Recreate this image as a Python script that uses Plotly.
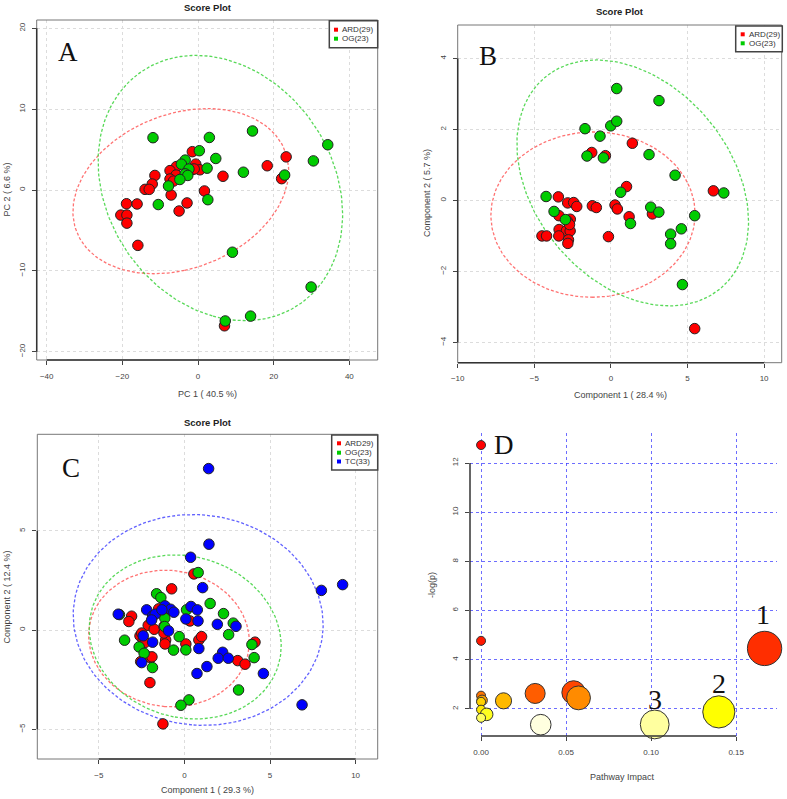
import colorsys
import numpy as np
import plotly.graph_objects as go

# ---------------- DATA ----------------
# Panel A (PCA score plot)
A_ARD_x = [-1.5, -5.7, -0.6, -7.4, -1.4, 0.5, -5.8, -11.4, -7.4, -6.5, -12.1, -14.0, -12.9, -7.1, 1.7, 6.6,
           -2.9, -5.0, -18.9, -16.1, -20.4, -18.8, -18.8, -15.9, 18.3, 23.3, 22.1, 7.0, -1.0]
A_ARD_y = [4.74, 2.9, 3.2, 2.4, 2.55, 2.5, 1.85, 1.8, 1.36, 1.1, 0.74, 0.08, 0.08, -0.62, -0.12, 1.7,
           -1.6, -2.6, -1.7, -1.73, -3.1, -3.1, -4.1, -6.85, 3.0, 4.1, 1.4, -16.8, 2.6]
A_OG_x = [-11.9, 3.0, 0.35, 4.7, -3.4, -4.4, -2.4, 2.4, -3.4, -2.7, -4.8, -7.8, -10.5, 2.6, 9.1, 14.4,
          34.3, 30.5, 12.0, 22.9, 29.9, 13.9, 7.2]
A_OG_y = [6.47, 6.5, 4.86, 3.9, 3.7, 3.2, 2.6, 2.7, 2.0, 1.8, 1.3, 0.5, -1.8, -1.2, -7.7, 7.3,
          5.6, 3.6, 2.2, 1.85, -12.0, -15.6, -16.2]
A_labels = ["ARD(29)", "OG(23)"]
A_xticks = [-40, -20, 0, 20, 40]
A_yticks = [-20, -10, 0, 10, 20]

# Panel B (PLS-DA score plot)
B_ARD_x = [1.40, -1.25, -0.36, 1.02, -3.43, -2.82, -2.43, -2.23, -1.21, -0.95, 0.27, 0.42, -3.39, -2.65,
           -2.85, -3.38, -2.90, -2.66, -3.40, -2.77, -2.81, -4.50, -4.20, -0.16, 1.19, 2.71, 6.69, 5.47, -2.70]
B_ARD_y = [1.61, 1.35, 1.26, 0.39, 0.10, -0.07, -0.06, -0.17, -0.15, -0.20, -0.13, -0.24, -0.43, -0.53,
           -0.58, -0.82, -0.85, -0.86, -1.00, -1.11, -1.21, -1.00, -1.00, -1.02, -0.46, -0.38, 0.27, -3.61, -0.68]
B_OG_x = [-1.56, -0.49, 2.49, 4.19, 0.64, -4.23, -3.71, -2.97, 2.60, 3.13, 1.28, 5.47, 4.60, 3.90, 3.90,
          0.38, 3.14, -1.69, -0.01, 0.38, -0.71, 7.37, 4.67]
B_OG_y = [1.25, 1.20, 1.29, 0.71, 0.23, 0.11, -0.31, -0.54, -0.19, -0.33, -0.65, -0.43, -0.80, -0.95, -1.22,
          3.15, 2.81, 2.02, 2.10, 2.23, 1.81, 0.21, -2.37]
B_labels = ["ARD(29)", "OG(23)"]
B_xticks = [-10, -5, 0, 5, 10]
B_yticks = [-4, -2, 0, 2, 4]

# Panel C (PLS-DA score plot, three groups)
C_ARD_x = [0.55, -0.75, -3.09, -3.25, -1.51, -1.09, -2.12, -1.77, -1.20, -2.60, -2.41, -1.10, -1.14, -2.14,
           -1.98, -2.56, -2.02, 0.08, 0.84, 1.00, 0.32, 3.11, 3.54, 4.12, -1.26, -2.50, -2.30, -1.20, -1.90]
C_ARD_y = [2.83, 2.08, 0.70, 0.43, 1.07, 0.90, 0.24, 0.04, 0.18, -0.29, -0.50, -0.50, -0.70, -1.34,
           -1.39, -1.59, -2.65, -0.70, -0.50, -0.33, 0.46, -1.54, -1.72, -0.61, -4.73, -0.15, -0.62, -0.15, -1.35]
C_OG_x = [-1.63, -1.38, 1.50, 2.28, 0.12, -1.15, -1.16, -3.50, -0.31, 0.08, -0.64, -2.65, -2.36, -1.87,
          2.58, 2.85, 3.94, 4.07, 0.80, 3.16, 0.26, -0.21, -3.80]
C_OG_y = [1.83, 1.64, 1.34, 0.83, 1.02, 0.60, 0.18, -0.51, -0.33, -1.0, -1.01, -0.85, -1.17, -1.89,
          -0.23, 0.35, -0.73, -1.39, 2.90, -3.02, -3.52, -3.79, 0.78]
C_TC_x = [-3.87, -2.21, -1.86, -1.71, -1.92, -1.14, -0.81, -0.62, -1.32, 0.38, 0.75, 0.08, 0.79, 1.92,
          3.01, -0.93, -2.41, -1.86, -2.50, 0.84, 2.23, 1.97, 2.56, 1.31, 0.73, 4.61, 1.41, 1.43, 0.36,
          1.06, 8.00, 9.24, 6.87]
C_TC_y = [0.80, 1.02, 0.71, 0.80, 0.51, 1.22, 1.05, 0.90, 1.02, 1.19, 1.02, 0.56, 0.46, 0.29,
          0.19, -0.04, -0.29, -0.61, -1.64, -0.93, -1.12, -1.42, -1.42, -1.84, -2.19, -2.19, 8.14, 4.33, 3.67,
          2.14, 2.00, 2.29, -3.77]
C_labels = ["ARD29)", "OG(23)", "TC(33)"]
C_xticks = [-5, 0, 5, 10]
C_yticks = [-5, 0, 5]

# Panel D (pathway analysis)
D_impact = [0.0, 0.0, 0.1667, 0.0, 0.0006, 0.0, 0.0, 0.0033, 0.0, 0.0132, 0.0318, 0.0544, 0.0573,
            0.0351, 0.1021, 0.1398]
D_logp = [12.73, 4.77, 4.46, 2.54, 2.35, 2.29, 1.97, 1.78, 1.64, 2.33, 2.63, 2.67, 2.45,
          1.36, 1.37, 1.88]
D_xticks = [0.00, 0.05, 0.10, 0.15]
D_yticks = [2, 4, 6, 8, 10, 12]
D_numbered = [(0.1667, 4.46, "1"), (0.1398, 1.88, "2"), (0.1021, 1.37, "3")]

# ---------------- HELPERS ----------------
W, H = 787, 799
def fx(p): return p / W
def fy(p): return 1 - p / H

RED, GREEN, BLUE = "#ff0000", "#00cc00", "#0000ff"
ELL = {RED: "rgba(255,90,90,0.85)", GREEN: "rgba(60,210,60,0.85)", BLUE: "rgba(70,70,255,0.85)"}

def ellipse(xs, ys, level_t=np.sqrt(5.991464547), n=200):
    pts = np.column_stack([xs, ys])
    mu = pts.mean(axis=0)
    cov = np.cov(pts.T)
    vals, vecs = np.linalg.eigh(cov)
    a = np.linspace(0, 2 * np.pi, n)
    circ = np.vstack([np.cos(a), np.sin(a)])
    e = vecs @ (np.sqrt(vals)[:, None] * circ) * level_t
    return mu[0] + e[0], mu[1] + e[1]

def heat_colors(n):
    j = n // 4
    i = n - j
    cols = []
    for k in range(i):
        h = (1 / 6) * k / (i - 1)
        cols.append(colorsys.hsv_to_rgb(h, 1, 1))
    if j > 0:
        for s in np.linspace(1 - 1 / (2 * j), 1 / (2 * j), j):
            cols.append(colorsys.hsv_to_rgb(1 / 6, s, 1))
    return ["#%02x%02x%02x" % (int(round(r * 255)), int(round(g * 255)), int(round(b * 255))) for r, g, b in cols]

fig = go.Figure()

panels = [
    ("x", "y", [(A_ARD_x, A_ARD_y, RED), (A_OG_x, A_OG_y, GREEN)]),
    ("x2", "y2", [(B_ARD_x, B_ARD_y, RED), (B_OG_x, B_OG_y, GREEN)]),
    ("x3", "y3", [(C_ARD_x, C_ARD_y, RED), (C_OG_x, C_OG_y, GREEN), (C_TC_x, C_TC_y, BLUE)]),
]
for xa, ya, groups in panels:
    for gx, gy, col in groups:
        ex, ey = ellipse(gx, gy)
        fig.add_trace(go.Scatter(x=ex, y=ey, mode="lines", xaxis=xa, yaxis=ya, showlegend=False,
                                 hoverinfo="skip",
                                 line=dict(color=ELL[col], width=1.3, dash="3px,2px")))
    for gx, gy, col in groups:
        fig.add_trace(go.Scatter(x=gx, y=gy, mode="markers", xaxis=xa, yaxis=ya, showlegend=False,
                                 marker=dict(color=col, size=10.5, line=dict(color="#222", width=1))))

# Panel D bubbles
order = sorted(range(len(D_logp)), key=lambda k: -D_logp[k])
hc = heat_colors(len(D_logp))
d_x = [D_impact[k] for k in order]
d_y = [D_logp[k] for k in order]
d_c = [hc[r] for r in range(len(order))]
d_s = [9 + 62 * np.sqrt(v) for v in d_x]
fig.add_trace(go.Scatter(x=d_x, y=d_y, mode="markers", xaxis="x4", yaxis="y4", showlegend=False,
                         cliponaxis=False,
                         marker=dict(color=d_c, size=d_s, sizemode="diameter",
                                     line=dict(color="#333", width=1), opacity=1)))

tickfont = dict(size=8, color="#444", family="Liberation Sans, Arial, sans-serif")
def xax(dom, rng, ticks, anchor, grid="#dcdcdc", fmt=None):
    d = dict(domain=dom, range=rng, tickvals=ticks, anchor=anchor, showgrid=True, gridcolor=grid,
             griddash="dot", gridwidth=1, zeroline=False, showline=False, ticks="outside", ticklen=4,
             tickcolor="#444", tickfont=tickfont, automargin=False, ticklabelstandoff=4, fixedrange=True)
    if fmt:
        d["tickformat"] = fmt
    return d
def yax(dom, rng, ticks, anchor, grid="#dcdcdc"):
    d = xax(dom, rng, ticks, anchor, grid)
    d["tickangle"] = -90
    return d

A_xdom, A_ydom = [fx(36.7), fx(377.7)], [fy(360), fy(20)]
B_xdom, B_ydom = [fx(457.7), fx(781.7)], [fy(362.7), fy(25)]
C_xdom, C_ydom = [fx(37.3), fx(377.7)], [fy(759), fy(434.3)]
D_xdom, D_ydom = [fx(470), fx(777)], [fy(736), fy(433)]
DGRID = "rgba(60,60,255,0.75)"

fig.update_layout(
    width=W, height=H, margin=dict(l=0, r=0, t=0, b=0),
    paper_bgcolor="white", plot_bgcolor="white", showlegend=False,
    font=dict(family="Liberation Sans, Arial, sans-serif", color="#333"),
    xaxis=xax(A_xdom, [-42.64, 47.5], A_xticks, "y"),
    yaxis=yax(A_ydom, [-21.03, 21.03], A_yticks, "x"),
    xaxis2=xax(B_xdom, [-10.0, 11.15], B_xticks, "y2"),
    yaxis2=yax(B_ydom, [-4.57, 4.94], B_yticks, "x2"),
    xaxis3=xax(C_xdom, [-8.6, 11.29], C_xticks, "y3"),
    yaxis3=yax(C_ydom, [-6.5, 9.87], C_yticks, "x3"),
    xaxis4=xax(D_xdom, [-0.0065, 0.174], D_xticks, "y4", grid=DGRID, fmt=".2f"),
    yaxis4=yax(D_ydom, [0.9, 13.22], D_yticks, "x4", grid=DGRID),
)

shapes = []
for n, xt, yt, box in [("", A_xticks, A_yticks, True), ("2", B_xticks, B_yticks, True),
                       ("3", C_xticks, C_yticks, True), ("4", D_xticks, D_yticks, False)]:
    xr, yr = "x" + n, "y" + n
    if box:
        shapes.append(dict(type="rect", xref=xr + " domain", yref=yr + " domain", x0=0, x1=1, y0=0, y1=1,
                           line=dict(color="#777", width=1)))
    shapes.append(dict(type="line", xref=xr + " domain", yref=yr, x0=0, x1=0, y0=min(yt), y1=max(yt),
                       line=dict(color="#333", width=1.5)))
    shapes.append(dict(type="line", xref=xr, yref=yr + " domain", x0=min(xt), x1=max(xt), y0=0, y1=0,
                       line=dict(color="#333", width=1.5)))

annotations = []
def txt(x, y, s, size=9, bold=False, angle=0, family=None, color="#333", xanchor="center"):
    a = dict(x=fx(x), y=fy(y), xref="paper", yref="paper", text=("<b>%s</b>" % s) if bold else s,
             showarrow=False, font=dict(size=size, color=color), textangle=angle, xanchor=xanchor,
             yanchor="middle")
    if family:
        a["font"]["family"] = family
    annotations.append(a)

# titles
txt(207.5, 7, "Score Plot", size=9.5, bold=True, color="#222")
txt(620, 11.7, "Score Plot", size=9.5, bold=True, color="#222")
txt(207.5, 422.7, "Score Plot", size=9.5, bold=True, color="#222")
# axis titles
txt(207.5, 394, "PC 1 ( 40.5 %)", size=9, color="#444")
txt(6.5, 190, "PC 2 ( 6.6 %)", size=9, angle=-90, color="#444")
txt(620, 395, "Component 1 ( 28.4 %)", size=9, color="#444")
txt(427, 193, "Component 2 ( 5.7 %)", size=9, angle=-90, color="#444")
txt(207.5, 790, "Component 1 ( 29.3 %)", size=9, color="#444")
txt(6.5, 597, "Component 2 ( 12.4 %)", size=9, angle=-90, color="#444")
txt(622, 777, "Pathway Impact", size=9, color="#444")
txt(432, 585, "-log(p)", size=9, angle=-90, color="#444")

serif = "Liberation Serif, Times New Roman, serif"
txt(68, 52, "A", size=27, family=serif, color="#111")
txt(488, 56, "B", size=27, family=serif, color="#111")
txt(71, 468, "C", size=27, family=serif, color="#111")
txt(504, 445, "D", size=27, family=serif, color="#111")
for ix, iy, lab in D_numbered:
    annotations.append(dict(x=ix, y=iy, xref="x4", yref="y4", text=lab, showarrow=False,
                            font=dict(size=28, family=serif, color="#111"),
                            yshift=34 if lab == "1" else (28 if lab == "2" else 25),
                            xshift=-2 if lab == "1" else 0))

# manual legends
def legend(box, sq_x, rows, text_x, labels, cols):
    x0, y0, x1, y1 = box
    shapes.append(dict(type="rect", xref="paper", yref="paper", x0=fx(x0), x1=fx(x1), y0=fy(y1), y1=fy(y0),
                       line=dict(color="#444", width=1.5), fillcolor="white"))
    for ry, lab, col in zip(rows, labels, cols):
        shapes.append(dict(type="rect", xref="paper", yref="paper", x0=fx(sq_x - 2), x1=fx(sq_x + 2),
                           y0=fy(ry + 2), y1=fy(ry - 2), line=dict(width=0), fillcolor=col))
        txt(text_x, ry, lab, size=8, color="#333", xanchor="left")

legend((329.3, 20.7, 377.7, 47.7), 336, [29.7, 38.7], 340, A_labels, [RED, GREEN])
legend((735.7, 26, 782.3, 51.7), 742.7, [34.3, 43.3], 746.5, B_labels, [RED, GREEN])
legend((331.7, 435, 377.7, 470), 339, [443.3, 452.7, 461.5], 343, C_labels, [RED, GREEN, BLUE])

fig.update_layout(shapes=shapes, annotations=annotations)
fig.write_html("out.html", config={"displayModeBar": False},
               post_script="document.body.style.margin='0px';document.body.style.overflow='hidden';")
